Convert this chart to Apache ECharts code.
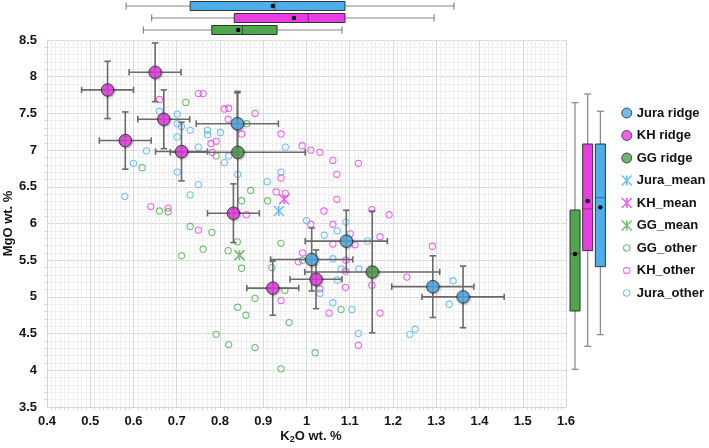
<!DOCTYPE html>
<html><head><meta charset="utf-8">
<script src="https://cdn.jsdelivr.net/npm/echarts@6/dist/echarts.min.js"></script>
<style>html,body{margin:0;padding:0;background:#fff}#c{width:709px;height:448px}</style>
</head><body><div id="c"></div>
<script>
// ---------------- DATA ----------------
// axis ranges / tick steps
const xRange = [0.4, 1.6], xStep = 0.1;
const yRange = [3.5, 8.5], yStep = 0.5;

// ridge means with error bars: [K2O, MgO, K2O_err, MgO_err]
const juraRidge = [[0.840,7.36,0.095,0.42],[1.012,5.51,0.095,0.43],[1.092,5.76,0.095,0.42],[1.292,5.14,0.095,0.42],[1.362,5.00,0.095,0.42]];
const khRidge = [[0.540,7.82,0.06,0.39],[0.650,8.06,0.06,0.40],[0.670,7.42,0.06,0.40],[0.581,7.13,0.06,0.39],[0.711,6.98,0.06,0.40],[0.831,6.14,0.06,0.40],[0.922,5.12,0.06,0.37],[1.022,5.24,0.06,0.40]];
const ggRidge = [[0.841,6.97,0.156,0.83],[1.152,5.34,0.156,0.83]];

// group means
const juraMean = [[0.936,6.17]];
const khMean = [[0.948,6.33]];
const ggMean = [[0.845,5.57]];

// other samples
const khOther = [[0.660,7.69],[0.750,7.77],[0.761,7.77],[0.810,7.56],[0.820,7.57],[0.819,7.42],[0.840,7.33],[0.850,7.22],[0.881,7.50],[0.779,7.09],[0.791,7.12],[0.782,6.97],[0.941,7.22],[0.990,7.06],[1.010,7.00],[1.031,6.97],[1.061,6.86],[1.070,6.67],[1.120,6.82],[0.941,6.62],[0.930,6.43],[0.951,6.41],[1.070,6.33],[1.040,6.17],[0.861,6.12],[0.640,6.23],[0.680,6.21],[1.010,5.99],[1.061,5.99],[1.151,6.19],[1.191,6.12],[0.750,5.91],[1.101,5.86],[1.061,5.72],[1.112,5.71],[1.170,5.82],[1.291,5.69],[0.991,5.60],[0.981,5.48],[1.091,5.50],[1.090,5.35],[1.031,5.11],[1.090,5.13],[1.151,5.16],[1.232,5.27],[0.941,4.95],[1.052,4.78],[1.170,4.78],[1.120,4.34]];
const juraOther = [[0.660,7.53],[0.701,7.49],[0.701,7.36],[0.711,7.32],[0.731,7.27],[0.771,7.27],[0.771,7.21],[0.801,7.24],[0.701,7.18],[0.750,7.04],[0.630,6.99],[0.820,6.92],[0.810,6.83],[0.600,6.82],[0.701,6.70],[0.841,6.67],[0.941,6.70],[0.951,7.04],[0.909,6.57],[0.750,6.53],[0.731,6.39],[0.580,6.37],[1.000,6.04],[1.091,6.02],[1.041,5.84],[1.071,5.90],[1.141,5.76],[1.061,5.52],[1.080,5.38],[1.121,5.38],[1.071,5.23],[1.031,5.05],[1.061,4.92],[1.105,4.83],[1.120,4.50],[1.339,5.22],[1.330,4.90],[1.239,4.49],[1.251,4.56]];
const ggOther = [[0.721,7.65],[0.862,7.36],[0.791,6.92],[0.620,6.76],[0.660,6.17],[0.680,6.16],[0.850,6.31],[0.910,6.31],[0.871,6.45],[0.731,5.96],[0.781,5.88],[0.761,5.65],[0.711,5.56],[0.819,5.63],[0.840,5.75],[0.850,5.39],[0.941,5.73],[0.920,5.40],[0.991,5.50],[0.950,5.09],[0.881,4.98],[0.841,4.86],[0.860,4.75],[0.960,4.65],[0.791,4.49],[0.820,4.35],[0.881,4.31],[1.020,4.24],[0.941,4.02],[1.080,4.83]];

// box plots: [min, q1, median, q3, max, mean]
const boxGroups = ['Jura', 'KH', 'GG'];
const k2oBox = [[0.583,0.731,0.927,1.089,1.341,0.922],[0.642,0.833,1.004,1.089,1.295,0.971],[0.623,0.781,0.852,0.932,1.082,0.842]];
const mgoBoxGroups = ['GG', 'KH', 'Jura'];
const mgoBox = [[4.014,4.808,5.59,6.184,7.646,5.584],[4.327,5.630,6.198,7.083,7.764,6.307],[4.485,5.412,6.352,7.083,7.529,6.220]];

// ---------------- STYLE ----------------
const FONT = 'Liberation Sans, Arial, sans-serif';
const C = {
  Jura: {ridge:'#4CADE8', other:'#55B4EC', mean:'#45B3EE', box:'#4DAEEA'},
  KH:   {ridge:'#E83CE6', other:'#EE40EE', mean:'#EC3BEC', box:'#E83EE2'},
  GG:   {ridge:'#4C9F4E', other:'#4FAE52', mean:'#4CAF50', box:'#4EA64F'}
};
const ASTER = 'path://M0,0L10,10M10,0L0,10M5,0L5,10';
const SMALLC = 'path://M0,0M10,10M5,1.8A3.2,3.2,0,1,1,4.99,1.8Z';
const G = {left:47, top:40, width:519, height:367};

const chart = echarts.init(document.getElementById('c'), null, {renderer:'canvas'});

function renderErr(params, api){
  const x=api.value(0), y=api.value(1), xe=api.value(2), ye=api.value(3);
  const L=api.coord([x-xe,y]), R=api.coord([x+xe,y]), T=api.coord([x,y+ye]), B=api.coord([x,y-ye]);
  const c=3.2, st={stroke:'#6a6a6a', lineWidth:1.6};
  return {type:'group', children:[
    {type:'line', shape:{x1:L[0],y1:L[1],x2:R[0],y2:R[1]}, style:st},
    {type:'line', shape:{x1:L[0],y1:L[1]-c,x2:L[0],y2:L[1]+c}, style:st},
    {type:'line', shape:{x1:R[0],y1:R[1]-c,x2:R[0],y2:R[1]+c}, style:st},
    {type:'line', shape:{x1:T[0],y1:T[1],x2:B[0],y2:B[1]}, style:st},
    {type:'line', shape:{x1:T[0]-c,y1:T[1],x2:T[0]+c,y2:T[1]}, style:st},
    {type:'line', shape:{x1:B[0]-c,y1:B[1],x2:B[0]+c,y2:B[1]}, style:st}
  ]};
}
function boxParts(p, horizontal, fill){
  const wsk={stroke:'#858585', lineWidth:1.2}, half=4.5, cap=3.5;
  const kids=[];
  if(horizontal){
    const y=p.min[1];
    kids.push({type:'line', shape:{x1:p.min[0],y1:y,x2:p.q1[0],y2:y}, style:wsk});
    kids.push({type:'line', shape:{x1:p.q3[0],y1:y,x2:p.max[0],y2:y}, style:wsk});
    kids.push({type:'line', shape:{x1:p.min[0],y1:y-cap,x2:p.min[0],y2:y+cap}, style:wsk});
    kids.push({type:'line', shape:{x1:p.max[0],y1:y-cap,x2:p.max[0],y2:y+cap}, style:wsk});
    kids.push({type:'rect', shape:{x:p.q1[0],y:y-half,width:p.q3[0]-p.q1[0],height:2*half}, style:{fill:fill, stroke:'#333', lineWidth:1}});
    kids.push({type:'line', shape:{x1:p.med[0],y1:y-half,x2:p.med[0],y2:y+half}, style:{stroke:'rgba(0,0,0,0.45)', lineWidth:1}});
    kids.push({type:'circle', shape:{cx:p.mean[0],cy:y,r:2.2}, style:{fill:'#000'}});
  } else {
    const x=p.min[0];
    kids.push({type:'line', shape:{x1:x,y1:p.min[1],x2:x,y2:p.q1[1]}, style:wsk});
    kids.push({type:'line', shape:{x1:x,y1:p.q3[1],x2:x,y2:p.max[1]}, style:wsk});
    kids.push({type:'line', shape:{x1:x-cap,y1:p.min[1],x2:x+cap,y2:p.min[1]}, style:wsk});
    kids.push({type:'line', shape:{x1:x-cap,y1:p.max[1],x2:x+cap,y2:p.max[1]}, style:wsk});
    kids.push({type:'rect', shape:{x:x-half-0.5,y:p.q3[1],width:2*half+1,height:p.q1[1]-p.q3[1]}, style:{fill:fill, stroke:'#333', lineWidth:1}});
    kids.push({type:'line', shape:{x1:x-half,y1:p.med[1],x2:x+half,y2:p.med[1]}, style:{stroke:'rgba(0,0,0,0.35)', lineWidth:1}});
    kids.push({type:'circle', shape:{cx:x,cy:p.mean[1],r:2.2}, style:{fill:'#000'}});
  }
  return {type:'group', children:kids};
}
function renderTopBox(params, api){
  const pos=api.value(0), v=[1,2,3,4,5,6].map(i=>api.value(i));
  const f=val=>api.coord([val,pos]);
  return boxParts({min:f(v[0]),q1:f(v[1]),med:f(v[2]),q3:f(v[3]),max:f(v[4]),mean:f(v[5])}, true, C[boxGroups[params.dataIndex]].box);
}
function renderRightBox(params, api){
  const pos=api.value(0), v=[1,2,3,4,5,6].map(i=>api.value(i));
  const f=val=>api.coord([pos,val]);
  return boxParts({min:f(v[0]),q1:f(v[1]),med:f(v[2]),q3:f(v[3]),max:f(v[4]),mean:f(v[5])}, false, C[mgoBoxGroups[params.dataIndex]].box);
}

const axisLabel = {color:'#151515', fontWeight:'bold', fontSize:13, fontFamily:FONT};
const hiddenVal = (min,max,inv)=>({type:'value', min, max, inverse:!!inv, show:false, splitLine:{show:false}});

function otherSeries(name, data, col){
  return {name, type:'scatter', data, symbol:'circle', symbolSize:6.2, z:2,
    itemStyle:{color:'rgba(255,255,255,0)', borderColor:col, borderWidth:1.1}};
}
function meanSeries(name, data, col){
  return {name, type:'scatter', data, symbol:ASTER, symbolSize:10, z:3,
    itemStyle:{color:col, borderColor:col, borderWidth:1.6}};
}
function ridgeSeries(name, data, col){
  return {name, type:'scatter', data, encode:{x:0,y:1}, symbol:'circle', symbolSize:12.5, z:6,
    itemStyle:{color:col, borderColor:'#2a2a2a', borderWidth:1, shadowBlur:2, shadowOffsetX:1, shadowOffsetY:1, shadowColor:'rgba(0,0,0,0.35)'}};
}

const option = {
  animation:false,
  backgroundColor:'#fff',
  grid:[
    {left:G.left, top:G.top, width:G.width, height:G.height, outerBoundsMode:'none', containLabel:false},
    {left:G.left, top:0, width:G.width, height:36, outerBoundsMode:'none', containLabel:false},
    {left:568.7, top:G.top, width:38, height:G.height, outerBoundsMode:'none', containLabel:false}
  ],
  xAxis:[
    {gridIndex:0, type:'value', min:xRange[0], max:xRange[1], interval:xStep,
     name:'{b|K}{s|2}{b|O wt. %}', nameLocation:'middle', nameGap:21, nameMoveOverlap:false,
     nameTextStyle:{padding:[0,0,0,9], rich:{
       b:{fontSize:13, fontWeight:'bold', color:'#151515', fontFamily:FONT, lineHeight:16, verticalAlign:'middle'},
       s:{fontSize:9, fontWeight:'bold', color:'#151515', fontFamily:FONT, lineHeight:9, verticalAlign:'bottom'}}},
     axisLine:{show:true, lineStyle:{color:'#d4d4d4', width:1}},
     axisTick:{show:false},
     minorTick:{show:true, splitNumber:10, length:3, lineStyle:{color:'#d8d8d8'}},
     axisLabel:Object.assign({margin:8}, axisLabel),
     splitLine:{show:true, lineStyle:{color:'#d9d9d9', width:1}},
     minorSplitLine:{show:true, lineStyle:{color:'#efefef', width:1}}},
    Object.assign({gridIndex:1}, hiddenVal(xRange[0], xRange[1])),
    Object.assign({gridIndex:2}, hiddenVal(0, 3))
  ],
  yAxis:[
    {gridIndex:0, type:'value', min:yRange[0], max:yRange[1], interval:yStep,
     name:'MgO wt. %', nameLocation:'middle', nameGap:32, nameRotate:90, nameMoveOverlap:false,
     nameTextStyle:{fontSize:13, fontWeight:'bold', color:'#151515', fontFamily:FONT},
     axisLine:{show:true, lineStyle:{color:'#d4d4d4', width:1}},
     axisTick:{show:false},
     minorTick:{show:true, splitNumber:5, length:3, lineStyle:{color:'#d8d8d8'}},
     axisLabel:Object.assign({margin:10}, axisLabel),
     splitLine:{show:true, lineStyle:{color:'#d9d9d9', width:1}},
     minorSplitLine:{show:true, lineStyle:{color:'#efefef', width:1}}},
    Object.assign({gridIndex:1}, hiddenVal(0, 3, true)),
    Object.assign({gridIndex:2}, hiddenVal(yRange[0], yRange[1]))
  ],
  legend:{
    orient:'vertical', left:621, top:106.5, itemWidth:10, itemHeight:10, itemGap:9.5, padding:0,
    selectedMode:false,
    textStyle:{fontSize:13, fontWeight:'bold', color:'#111', fontFamily:FONT},
    data:[
      {name:'Jura ridge', icon:'circle', itemStyle:{color:C.Jura.ridge, borderColor:'#2a2a2a', borderWidth:1}},
      {name:'KH ridge', icon:'circle', itemStyle:{color:C.KH.ridge, borderColor:'#2a2a2a', borderWidth:1}},
      {name:'GG ridge', icon:'circle', itemStyle:{color:C.GG.ridge, borderColor:'#2a2a2a', borderWidth:1}},
      {name:'Jura_mean', icon:ASTER, itemStyle:{color:C.Jura.mean, borderColor:C.Jura.mean, borderWidth:1.5}},
      {name:'KH_mean', icon:ASTER, itemStyle:{color:C.KH.mean, borderColor:C.KH.mean, borderWidth:1.5}},
      {name:'GG_mean', icon:ASTER, itemStyle:{color:C.GG.mean, borderColor:C.GG.mean, borderWidth:1.5}},
      {name:'GG_other', icon:SMALLC, itemStyle:{color:'rgba(255,255,255,0)', borderColor:C.GG.other, borderWidth:1.1}},
      {name:'KH_other', icon:SMALLC, itemStyle:{color:'rgba(255,255,255,0)', borderColor:C.KH.other, borderWidth:1.1}},
      {name:'Jura_other', icon:SMALLC, itemStyle:{color:'rgba(255,255,255,0)', borderColor:C.Jura.other, borderWidth:1.1}}
    ]
  },
  series:[
    otherSeries('GG_other', ggOther, C.GG.other),
    otherSeries('KH_other', khOther, C.KH.other),
    otherSeries('Jura_other', juraOther, C.Jura.other),
    meanSeries('Jura_mean', juraMean, C.Jura.mean),
    meanSeries('KH_mean', khMean, C.KH.mean),
    meanSeries('GG_mean', ggMean, C.GG.mean),
    {name:'err', type:'custom', renderItem:renderErr, data:[...juraRidge, ...khRidge, ...ggRidge], encode:{x:0,y:1}, clip:false, z:5, silent:true},
    ridgeSeries('Jura ridge', juraRidge, C.Jura.ridge),
    ridgeSeries('KH ridge', khRidge, C.KH.ridge),
    ridgeSeries('GG ridge', ggRidge, C.GG.ridge),
    {name:'k2oBox', type:'custom', xAxisIndex:1, yAxisIndex:1, renderItem:renderTopBox, clip:false,
     data:k2oBox.map((b,i)=>[i+0.5, ...b]), encode:{x:[1,2,3,4,5,6], y:0}},
    {name:'mgoBox', type:'custom', xAxisIndex:2, yAxisIndex:2, renderItem:renderRightBox, clip:false,
     data:mgoBox.map((b,i)=>[i+0.5, ...b]), encode:{x:0, y:[1,2,3,4,5,6]}}
  ]
};
chart.setOption(option);
</script></body></html>
